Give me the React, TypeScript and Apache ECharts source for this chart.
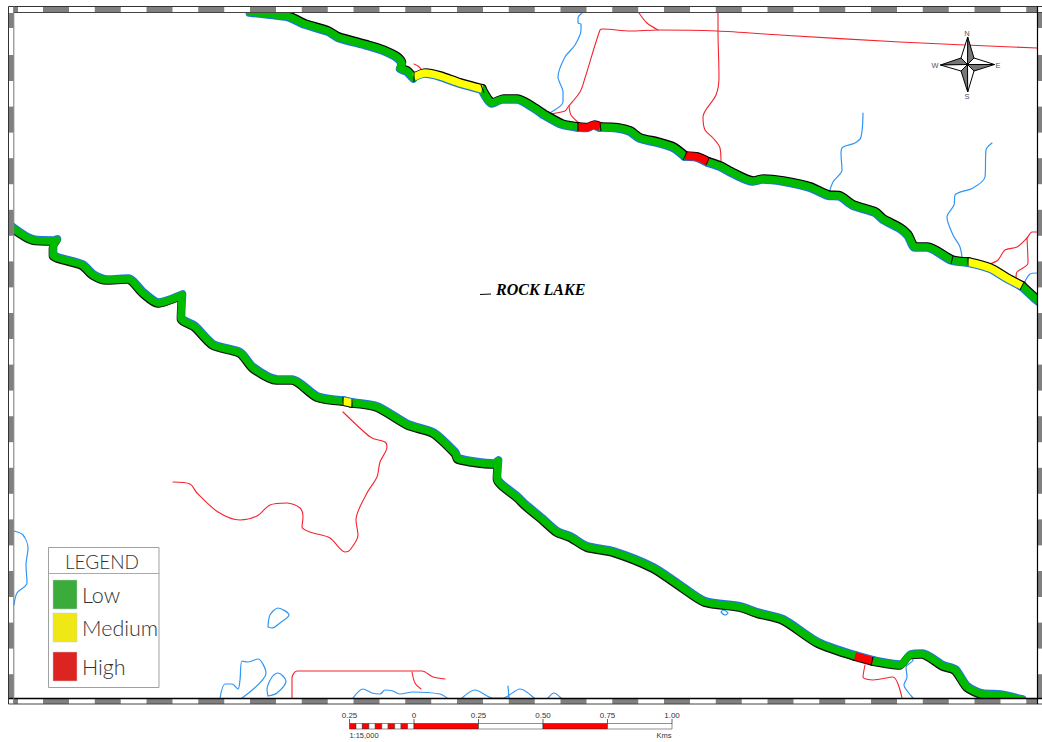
import React, { useEffect, useRef } from "react";
import * as echarts from "echarts";

type P = [number, number];

// North road, split by hazard class
const northLow1: P[] = [[250,12],[277,15],[290,17],[305,24],[328,31],[338,37],[367,45],[383,50],[397,57],[402,63],[400,68],[407,71],[411,75],[414,78]];
const northMed1: P[] = [[414,77],[425,73],[440,76],[460,83],[482,89]];
const northLow2: P[] = [[482,89],[492,103],[503,99],[517,99],[533,107],[545,115],[562,124],[578,127]];
const northHigh1: P[] = [[578,127],[587,127.5],[594,125],[600,127]];
const northLow3: P[] = [[600,127],[617,127.7],[630,131],[640,138],[657,142],[673,147],[685,156]];
const northHigh2: P[] = [[685,156],[697,157],[708,162]];
const northLow4: P[] = [[708,162],[720,166],[733,173],[753,181],[763,179],[783,181],[810,187],[828,195],[840,196],[853,205],[875,212],[883,219],[900,228],[908,235],[915,247],[927,247],[952,260],[968,262]];
const northMed2: P[] = [[968,262],[990,268],[1007,278],[1022,286]];
const northLow5: P[] = [[1022,286],[1035,298],[1040,302]];

// South road, split by hazard class
const southLow1: P[] = [[10,226],[33,240],[53,241],[57,240],[53,247],[53,255],[82,265],[93,275],[107,280],[128,279],[143,293],[158,303],[182,295],[181,318],[195,327],[213,345],[240,353],[253,368],[277,380],[292,380],[317,397],[343,401]];
const southMed1: P[] = [[343,401],[352,403]];
const southLow2: P[] = [[352,403],[377,407],[408,425],[433,433],[455,453],[458,459],[493,464],[498,461],[497,478],[518,498],[525,505],[543,520],[557,532],[570,537],[587,547],[613,552],[653,568],[683,588],[705,602],[740,607],[757,613],[783,620],[818,643],[855,656]];
const southHigh1: P[] = [[855,656],[873,661]];
const southLow3: P[] = [[873,661],[900,665],[910,655],[922,654],[943,666],[955,670],[967,687],[982,694],[1000,695],[1022,700]];

const lowSegments = [northLow1, northLow2, northLow3, northLow4, northLow5, southLow1, southLow2, southLow3];
const mediumSegments = [northMed1, northMed2, southMed1];
const highSegments = [northHigh1, northHigh2, southHigh1];
const northRoad = [northLow1, northMed1, northLow2, northHigh1, northLow3, northHigh2, northLow4, northMed2, northLow5];
const southRoad = [southLow1, southMed1, southLow2, southHigh1, southLow3];

const dividers: P[][] = [
  [[414,73],[414,82]],[[481,85],[484,93]],[[578,123],[578,131]],[[600,123],[601,131]],
  [[687,152],[683,160]],[[709,158],[706,165]],[[953,256],[951,264]],[[968,258],[968,266]],
  [[1024,282],[1020,290]],[[343,397],[343,405]],[[352,399],[352,407]],[[873,657],[871,665]],
];

// Access roads
const redLines: P[][] = [
  [[550,114],[565,111],[568,107],[580,92],[585,78],[600,30],[603,29],[630,31],[658,30],[717,31],[780,35],[900,42],[1037,48]],
  [[639,13],[647,23],[658,30]],
  [[569,106],[571,115],[579,123]],
  [[718,13],[718,31],[719,77],[716,95],[703,117],[705,130],[713,138],[720,148],[721,163]],
  [[414,64],[418,66],[422,70]],
  [[990,264],[998,260],[1005,250],[1017,247],[1027,238],[1032,232],[1037,232]],
  [[1027,238],[1028,263],[1017,272],[1016,278]],
  [[173,482],[190,484],[197,493],[218,512],[240,520],[257,516],[270,505],[287,503],[300,508],[303,517],[302,527],[310,532],[330,538],[345,552],[350,550],[358,535],[356,520],[367,493],[377,477],[380,462],[387,447],[385,442],[372,438],[362,430],[343,412]],
  [[292,698],[292,678],[297,671],[422,671],[433,677],[445,679]],
  [[412,672],[415,683],[421,689]],
  [[865,665],[863,677],[873,680],[893,677],[902,698]],
];

// Streams and lakes
const blueLines: P[][] = [
  [[582,13],[578,18],[578,23],[581,24],[581,30],[575,45],[565,57],[558,77],[563,92],[563,102],[550,113],[540,118]],
  [[863,113],[861,137],[855,143],[843,147],[841,153],[842,170],[833,182],[828,197]],
  [[992,143],[986,150],[985,177],[973,188],[955,195],[954,205],[947,217],[953,235],[960,247],[963,265]],
  [[1037,273],[1030,274],[1022,288]],
  [[14,531],[23,535],[28,548],[26,565],[27,583],[17,593],[14,605]],
  [[268,627],[270,615],[278,608],[289,615],[280,623],[272,628],[268,627]],
  [[220,698],[225,684],[232,684],[238,689],[240,680],[242,661],[248,662],[258,659],[266,673],[242,698]],
  [[268,696],[267,690],[272,677],[278,673],[286,681],[277,693],[268,696]],
  [[353,698],[363,689],[372,693],[380,694],[385,690],[393,691],[400,694],[413,692],[440,694],[447,698]],
  [[462,698],[475,690],[493,698],[503,698],[520,689],[534,698]],
  [[508,686],[509,698]],
  [[548,698],[554,693],[561,698]],
  [[721,612],[723,610],[728,613],[725,615],[721,612]],
  [[913,653],[913,660],[906,667],[907,677],[904,685],[908,692],[913,698]],
];

const legendItems = ["Low", "Medium", "High"];
const legendColors = ["#3bab3b", "#f0e815", "#dc2421"];
const legendTops = [580, 613, 652];
const scaleLabels = ["0.25", "0", "0.25", "0.50", "0.75", "1.00"];
const scaleStops = [349.5, 414, 478.5, 543, 607.5, 672];
const compassLabels = [
  { t: "N", x: 967, y: 33.5 },
  { t: "S", x: 967, y: 96 },
  { t: "W", x: 935, y: 65 },
  { t: "E", x: 998, y: 65 },
];

const GREEN = "#00bb00";
const DARK = "#808080";

function line(name: string, data: P[], color: string, width: number, z: number, smooth: number | boolean = 0.25, cap = "round") {
  return {
    type: "line", name, data, z, smooth, symbol: "none", silent: true, clip: true,
    lineStyle: { color, width, cap, join: "round", opacity: 1 },
  };
}
const shift = (pts: P[], dx: number, dy: number): P[] => pts.map(([x, y]) => [x + dx, y + dy]);

function frame(): any[] {
  const out: any[] = [];
  const rect = (x: number, y: number, w: number, h: number, fill: string) =>
    out.push({ type: "rect", z: 50, shape: { x, y, width: w, height: h }, style: { fill } });
  const L = 8.5, R = 1037.5, T = 6.5, B = 698.5;
  // white band under the strips
  rect(L, T, 1042 - L, 6, "#fff");
  rect(L, B, 1042 - L, 5.5, "#fff");
  rect(L, T, 5, 704 - T, "#fff");
  rect(R, T, 4.5, 704 - T, "#fff");
  for (let k = 0; k < 20; k++) {
    const x = 43 + 51.75 * k;
    if (x < 1037) {
      const w = Math.min(26, 1037 - x);
      rect(x, T, w, 6, DARK);
      rect(x, B, w, 5.5, DARK);
    }
  }
  rect(13.5, T, 4.5, 6, DARK);
  rect(13.5, B, 4.5, 5.5, DARK);
  rect(L, 13, 5, 15, DARK);
  rect(R, 13, 4.5, 15, DARK);
  for (let k = 0; k < 13; k++) {
    const y = 55 + 51.6 * k;
    const h = Math.min(26, B - y);
    rect(L, y, 5, h, DARK);
    rect(R, y, 4.5, h, DARK);
  }
  const hline = (x1: number, y1: number, x2: number, y2: number, stroke: string, w: number) =>
    out.push({ type: "line", z: 51, shape: { x1, y1, x2, y2 }, style: { stroke, lineWidth: w } });
  hline(L, T, 1042, T, "#333", 1);
  hline(13.5, 12.5, 1042, 12.5, "#444", 1);
  hline(L, B, 1042, B, "#000", 1.4);
  hline(L, 704, 1042, 704, "#444", 1);
  hline(L, T, L, 704, "#333", 1);
  hline(13.8, T, 13.8, 704, "#777", 1);
  hline(R, T, R, 704, "#000", 1.2);
  return out;
}

function legendBox(): any[] {
  const out: any[] = [
    { type: "rect", z: 60, shape: { x: 48.5, y: 547.5, width: 110.5, height: 140 }, style: { fill: "#fff", stroke: "#a0a0a0", lineWidth: 1 } },
    { type: "line", z: 61, shape: { x1: 48.5, y1: 573.5, x2: 159, y2: 573.5 }, style: { stroke: "#aaa", lineWidth: 1 } },
    { type: "text", z: 61, x: 102, y: 561, style: { text: "LEGEND", font: "300 19px Lato", fill: "#333", align: "center", verticalAlign: "middle" } },
  ];
  legendItems.forEach((t, i) => {
    out.push({ type: "rect", z: 61, shape: { x: 53, y: legendTops[i], width: 24, height: 29 }, style: { fill: legendColors[i], stroke: "#ccc", lineWidth: 0.5 } });
    out.push({ type: "text", z: 61, x: 82, y: legendTops[i] + 14.5, style: { text: t, font: "300 21.5px Lato", fill: "#333", align: "left", verticalAlign: "middle" } });
  });
  return out;
}

function scaleBar(): any[] {
  const out: any[] = [];
  const top = 723.5, h = 5.5, left = scaleStops[0], zero = scaleStops[1];
  const seg = (zero - left) / 10;
  for (let i = 0; i < 10; i++)
    out.push({ type: "rect", z: 60, shape: { x: left + i * seg, y: top, width: seg, height: h }, style: { fill: i % 2 ? "#fff" : "#f00", stroke: "#222", lineWidth: 0.5 } });
  for (let i = 1; i < 5; i++)
    out.push({ type: "rect", z: 60, shape: { x: scaleStops[i], y: top, width: scaleStops[i + 1] - scaleStops[i], height: h }, style: { fill: i % 2 ? "#f00" : "#fff", stroke: "#222", lineWidth: 0.5 } });
  scaleLabels.forEach((t, i) => {
    out.push({ type: "line", z: 61, shape: { x1: scaleStops[i], y1: 719, x2: scaleStops[i], y2: top }, style: { stroke: "#222", lineWidth: 0.7 } });
    out.push({ type: "text", z: 61, x: scaleStops[i], y: 715, style: { text: t, font: "8px 'Liberation Sans'", fill: "#333", align: "center", verticalAlign: "middle" } });
  });
  out.push({ type: "text", z: 61, x: 364, y: 735, style: { text: "1:15,000", font: "7.5px 'Liberation Sans'", fill: "#333", align: "center", verticalAlign: "middle" } });
  out.push({ type: "text", z: 61, x: 664, y: 735, style: { text: "Kms", font: "7.5px 'Liberation Sans'", fill: "#333", align: "center", verticalAlign: "middle" } });
  return out;
}

function compass(): any[] {
  const c: P = [967.5, 64.5];
  const tips: P[] = [[967.7, 37], [994.5, 64.5], [967.7, 92], [940.5, 65]];
  const d = 6.5;
  const corners: P[] = [[c[0] + d, c[1] - d], [c[0] + d, c[1] + d], [c[0] - d, c[1] + d], [c[0] - d, c[1] - d]];
  const out: any[] = [];
  const stroke = { stroke: "#000", lineWidth: 1, lineJoin: "miter" };
  tips.forEach((tip, i) => {
    const cw = corners[i];
    const ccw = corners[(i + 3) % 4];
    out.push({ type: "polygon", z: 60, shape: { points: [c, tip, cw] }, style: { fill: "#777", ...stroke } });
    out.push({ type: "polygon", z: 60, shape: { points: [c, tip, ccw] }, style: { fill: "#fff", ...stroke } });
  });
  compassLabels.forEach((l) =>
    out.push({ type: "text", z: 61, x: l.x, y: l.y, style: { text: l.t, font: "7.5px 'Liberation Sans'", fill: "#555", align: "center", verticalAlign: "middle" } })
  );
  return out;
}

function buildOption(): any {
  const series: any[] = [];
  blueLines.forEach((d, i) => series.push(line("stream" + i, d, "#2f96f5", 1.2, 2, 0.3)));
  redLines.forEach((d, i) => series.push(line("track" + i, d, "#f5222d", 1.1, 3, 0.3)));
  northRoad.forEach((d, i) => {
    series.push(line("northBlue" + i, shift(d, -0.6, 1.1), "#1f78d8", 7.5, 5));
    series.push(line("northEdge" + i, shift(d, 0.6, -1.1), "#000", 7.5, 6));
  });
  southRoad.forEach((d, i) => {
    series.push(line("southBlue" + i, shift(d, 0.6, -1.1), "#1f78d8", 7.5, 5));
    series.push(line("southEdge" + i, shift(d, -0.6, 1.1), "#111", 7.5, 6));
  });
  lowSegments.forEach((d, i) => series.push(line("Low" + i, d, GREEN, 7.5, 8)));
  mediumSegments.forEach((d, i) => series.push(line("Medium" + i, d, "#ffff00", 7.5, 9, 0.25, "butt")));
  highSegments.forEach((d, i) => series.push(line("High" + i, d, "#ff0000", 8, 9, 0.25, "butt")));
  dividers.forEach((d, i) => series.push(line("divider" + i, d, "#000", 1, 10, false, "butt")));
  return {
    animation: false,
    backgroundColor: "#fff",
    grid: { left: 14, top: 13, width: 1023, height: 685, containLabel: false },
    xAxis: { type: "value", min: 14, max: 1037, show: false },
    yAxis: { type: "value", min: 13, max: 698, inverse: true, show: false },
    series,
    graphic: [
      ...frame(),
      ...legendBox(),
      ...scaleBar(),
      ...compass(),
      { type: "text", z: 40, x: 496, y: 289.5, style: { text: "ROCK LAKE", font: "italic bold 16px 'Liberation Serif'", fill: "#000", align: "left", verticalAlign: "middle" } },
      { type: "line", z: 40, shape: { x1: 480, y1: 294.5, x2: 491, y2: 294 }, style: { stroke: "#000", lineWidth: 1 } },
    ],
  };
}

export default function App() {
  const ref = useRef<HTMLDivElement>(null);
  useEffect(() => {
    document.body.style.margin = "0";
    document.body.style.overflow = "hidden";
    const chart = echarts.init(ref.current!, undefined, { renderer: "svg" });
    chart.setOption(buildOption());
    return () => chart.dispose();
  }, []);
  return <div ref={ref} style={{ width: 1042, height: 742 }} />;
}
